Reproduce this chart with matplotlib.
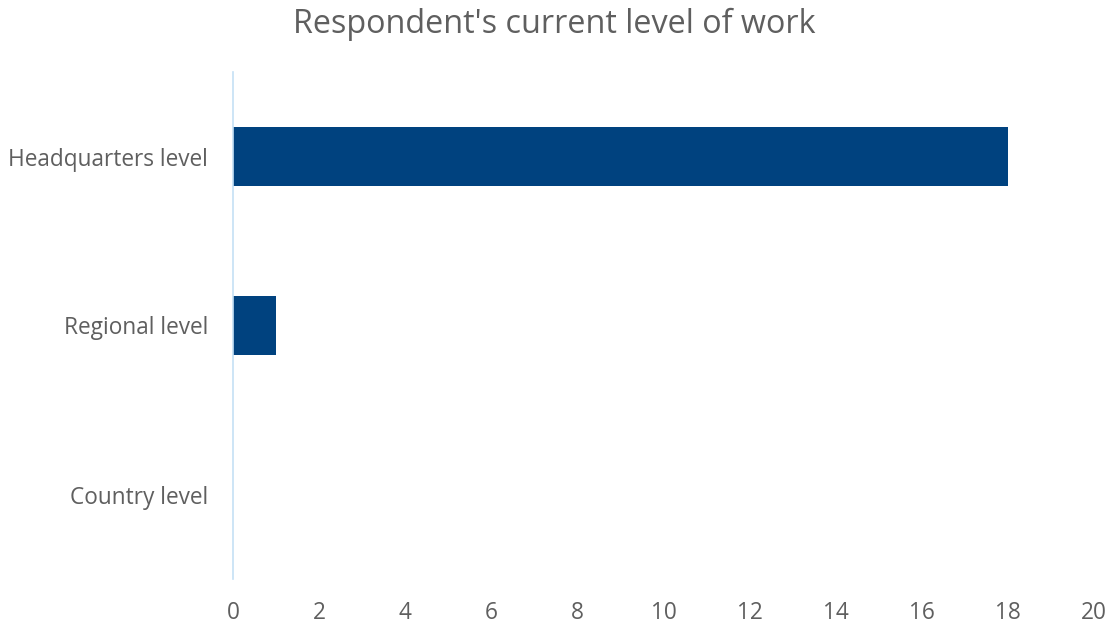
import matplotlib
matplotlib.use("Agg")
import matplotlib.pyplot as plt

categories = ["Country level", "Regional level", "Headquarters level"]
values = [0, 1, 18]
x_ticks = [0, 2, 4, 6, 8, 10, 12, 14, 16, 18, 20]
title = "Respondent's current level of work"

plt.rcParams["font.family"] = ["Open Sans", "DejaVu Sans"]
text_color = "#5f5f5f"
bar_color = "#00427f"

fig = plt.figure(figsize=(11.08, 6.27), dpi=100)
ax = fig.add_axes([233 / 1108, 1 - 579 / 627, (1094 - 233) / 1108, (579 - 72) / 627])

ax.barh(range(len(categories)), values, height=0.355, color=bar_color)
ax.set_xlim(0, 20)
ax.set_ylim(-0.5, len(categories) - 0.5)
ax.set_yticks(range(len(categories)))
ax.set_yticklabels(categories, fontsize=16.3, color=text_color)
ax.set_xticks(x_ticks)
ax.set_xticklabels([str(t) for t in x_ticks], fontsize=16.3, color=text_color)

for side in ["top", "right", "bottom"]:
    ax.spines[side].set_visible(False)
ax.spines["left"].set_color("#c5e0f5")
ax.spines["left"].set_linewidth(1.2)
ax.tick_params(axis="both", length=0)
ax.tick_params(axis="x", pad=16)
ax.tick_params(axis="y", pad=18)

fig.text(0.5, 1 - 24 / 627, title, ha="center", va="center", fontsize=23.3, color=text_color)

fig.savefig("out.png", dpi=100)
